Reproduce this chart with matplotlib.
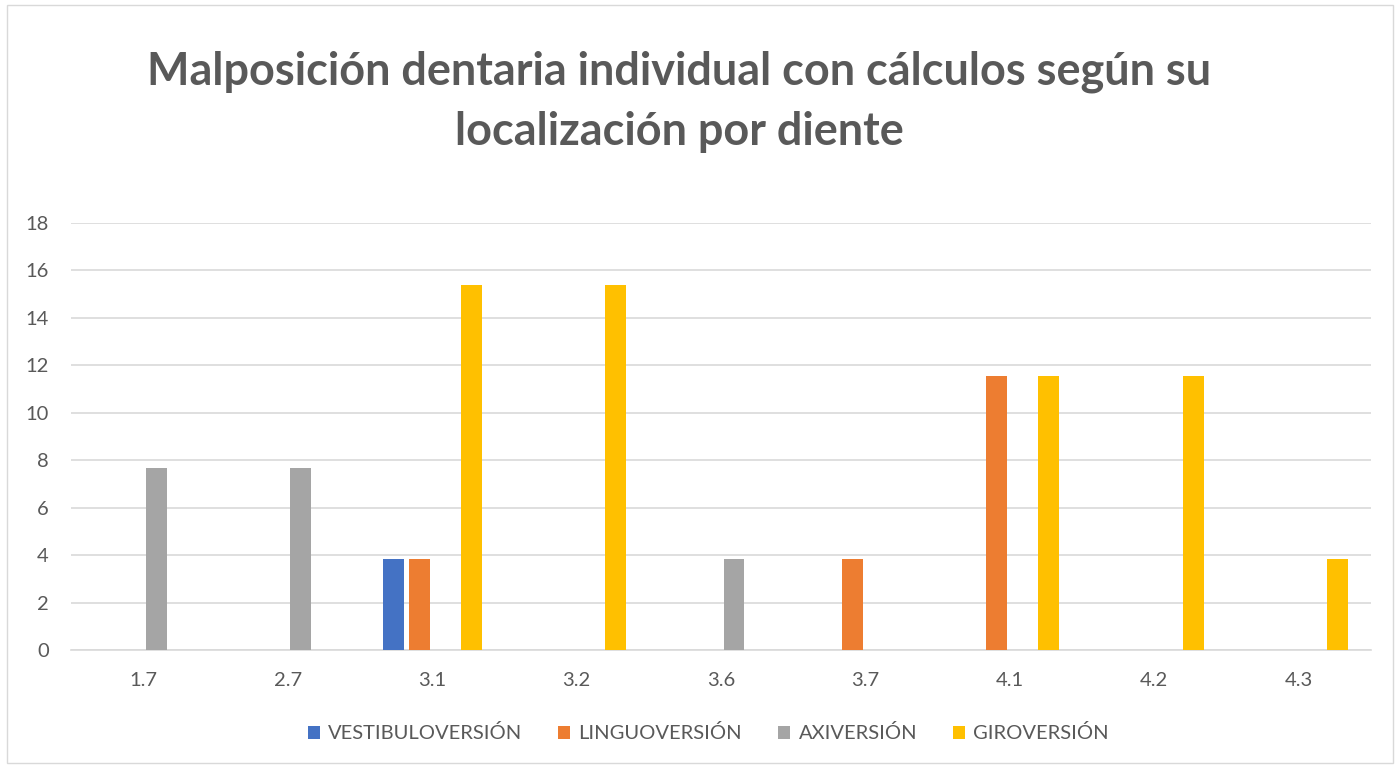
import numpy as np
import matplotlib
matplotlib.use('Agg')
import matplotlib.pyplot as plt
from matplotlib.patches import Rectangle

plt.rcParams['font.family'] = ['Lato', 'DejaVu Sans']

categories = ['1.7', '2.7', '3.1', '3.2', '3.6', '3.7', '4.1', '4.2', '4.3']
vestibuloversion = [0, 0, 3.85, 0, 0, 0, 0, 0, 0]
linguoversion = [0, 0, 3.85, 0, 0, 3.85, 11.54, 0, 0]
axiversion = [7.69, 7.69, 0, 0, 3.85, 0, 0, 0, 0]
giroversion = [0, 0, 15.38, 15.38, 0, 0, 11.54, 11.54, 3.85]

series = [
    ('VESTIBULOVERSIÓN', vestibuloversion, '#4472C4'),
    ('LINGUOVERSIÓN', linguoversion, '#ED7D31'),
    ('AXIVERSIÓN', axiversion, '#A5A5A5'),
    ('GIROVERSIÓN', giroversion, '#FFC000'),
]

txt = '#595959'
fig = plt.figure(figsize=(14, 7.67), dpi=100)
ax = fig.add_axes([0.0507, 0.1525, 0.9286, 0.5568])

x = np.arange(len(categories))
step = 0.18
width = 0.145
offsets = [-1.5, -0.5, 0.5, 1.5]
for (name, vals, col), off in zip(series, offsets):
    v = np.array(vals, dtype=float)
    ax.bar(x + off * step, v, width, color=col, label=name, zorder=3)

ax.set_xlim(-0.5, len(categories) - 0.5)
ax.set_ylim(0, 18)
ax.set_yticks(range(0, 19, 2))
ax.set_xticks(x)
ax.set_xticklabels(categories)
ax.yaxis.grid(True, color='#D9D9D9', linewidth=1.2, zorder=0)
for s in ['top', 'right', 'left']:
    ax.spines[s].set_visible(False)
ax.spines['bottom'].set_color('#D9D9D9')
ax.spines['bottom'].set_linewidth(1.2)
ax.tick_params(axis='both', length=0, labelsize=14.5, colors=txt)
ax.tick_params(axis='x', pad=16)
ax.tick_params(axis='y', pad=16)

fig.text(0.485, 0.907, 'Malposición dentaria individual con cálculos según su',
         ha='center', va='center', fontsize=32.4, fontweight='bold', color=txt)
fig.text(0.485, 0.8285, 'localización por diente',
         ha='center', va='center', fontsize=32.4, fontweight='bold', color=txt)

leg = fig.legend(loc='center', bbox_to_anchor=(0.506, 0.044), ncol=4, frameon=False,
                 fontsize=14.5, handlelength=0.6, handleheight=0.6, columnspacing=1.8,
                 handletextpad=0.4)
for t in leg.get_texts():
    t.set_color(txt)

fig.patches.append(Rectangle((0.005, 0.005), 0.99, 0.988, transform=fig.transFigure,
                             fill=False, edgecolor='#D9D9D9', linewidth=1))

fig.savefig('out.png', dpi=100)
